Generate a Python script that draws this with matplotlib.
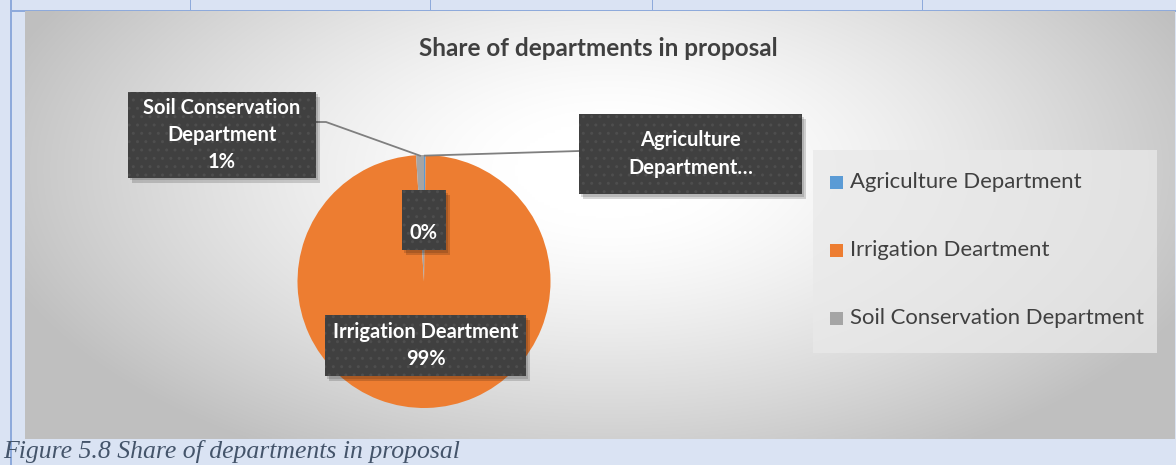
import numpy as np
import matplotlib
matplotlib.use("Agg")
import matplotlib.pyplot as plt
from matplotlib.patches import Rectangle

categories = ["Agriculture Department", "Irrigation Deartment", "Soil Conservation Department"]
shares = [0.2, 98.8, 1.0]
colors = ["#5B9BD5", "#ED7D31", "#A5A5A5"]
box_labels = ["Agriculture\nDepartment…", "Irrigation Deartment\n99%", "Soil Conservation\nDepartment\n1%"]
title = "Share of departments in proposal"
caption = "Figure 5.8 Share of departments in proposal"

W, H = 1176, 465
fig = plt.figure(figsize=(W / 100, H / 100), dpi=100)
fig.patch.set_facecolor("#DAE3F3")
FONT = "Lato"

bg = fig.add_axes([0, 0, 1, 1], zorder=0)
bg.set_xlim(0, W)
bg.set_ylim(H, 0)
bg.axis("off")

# table borders
border = "#8EAADB"
bg.add_patch(Rectangle((10, 0), 2, H, color=border, lw=0, antialiased=False))
bg.add_patch(Rectangle((10, 10), W - 10, 2, color=border, lw=0, antialiased=False))
for xv in [190, 430, 652, 922]:
    bg.add_patch(Rectangle((xv, 0), 1, 10, color=border, lw=0, antialiased=False))

# chart area gradient
x0, x1, y0, y1 = 25, 1175, 12, 439
xs = np.linspace(x0, x1, 400)
ys = np.linspace(y0, y1, 160)
X, Y = np.meshgrid(xs, ys)
d = np.sqrt(((X - 610) / 640) ** 2 + ((Y - 170) / 330) ** 2)
t = np.clip((d - 0.15) / 0.85, 0, 1)
v = 1.0 - 0.25 * t ** 1.3
img = np.dstack([v, v, v])
bg.imshow(img, extent=(x0, x1, y1, y0), aspect="auto", interpolation="bilinear", zorder=1)

# pie axes
cx, cy, r = 424, 281.5, 126.5
pax = fig.add_axes([(cx - r) / W, (H - cy - r) / H, 2 * r / W, 2 * r / H], zorder=2)
wedges, _ = pax.pie(shares, colors=colors, startangle=90, counterclock=False,
                    wedgeprops=dict(linewidth=0))
pax.set_xlim(-1, 1)
pax.set_ylim(-1, 1)
pax.set_aspect("auto")
pax.axis("off")

ov = fig.add_axes([0, 0, 1, 1], zorder=3)
ov.set_xlim(0, W)
ov.set_ylim(H, 0)
ov.axis("off")
ov.patch.set_alpha(0)

def edge_point(w, frac=0.5, rad=1.0):
    a = np.deg2rad(w.theta1 + frac * (w.theta2 - w.theta1))
    return cx + rad * r * np.cos(a), cy - rad * r * np.sin(a)

def label_box(xa, ya, xb, yb, text, fs=14.5, ty=None):
    ov.add_patch(Rectangle((xa + 4, ya + 5), xb - xa, yb - ya, color="#000000", alpha=0.16, lw=0, zorder=4))
    ov.add_patch(Rectangle((xa + 2, ya + 2.5), xb - xa, yb - ya, color="#000000", alpha=0.14, lw=0, zorder=4))
    ov.add_patch(Rectangle((xa, ya), xb - xa, yb - ya, facecolor="#404040", edgecolor="#4E4E4E",
                           hatch="..", lw=0, zorder=5))
    ov.text((xa + xb) / 2, (ya + yb) / 2 if ty is None else ty, text, color="white", fontsize=fs,
            fontweight="bold", family=FONT, ha="center", va="center", linespacing=1.45, zorder=6)

# leader lines
sx, sy = edge_point(wedges[2], 0.5, 0.995)
ov.plot([316, 326, sx], [122, 122, sy], color="#7F7F7F", lw=1.3, zorder=3.5)
ax_, ay_ = edge_point(wedges[0], 0.5, 0.995)
ov.plot([ax_, 579], [ay_, 151], color="#7F7F7F", lw=1.3, zorder=3.5)

label_box(128, 92, 316, 178, box_labels[2])
label_box(579, 114, 802, 194, box_labels[0])
label_box(402, 190, 446, 250, "0%", ty=233)
label_box(325, 315, 526, 376, box_labels[1])

# title
ov.text(598, 48, title, fontsize=17.5, fontweight="bold", color="#404040", family=FONT,
        ha="center", va="center")

# legend
ov.add_patch(Rectangle((813, 150), 344, 203, facecolor="#E9E9E9", alpha=0.75, lw=0, zorder=3))
for i, (lab, c) in enumerate(zip(categories, colors)):
    yy = 182 + i * 68
    ov.add_patch(Rectangle((830, yy - 6.5), 13, 13, color=c, lw=0, zorder=4))
    ov.text(850, yy, lab, fontsize=15.9, color="#404040", family=FONT, ha="left", va="center", zorder=4)

# caption
ov.text(3, 451.5, caption, fontsize=18.5, style="italic", color="#44546A",
        family="Liberation Serif", ha="left", va="center")

fig.savefig("out.png", dpi=100, facecolor=fig.get_facecolor())
